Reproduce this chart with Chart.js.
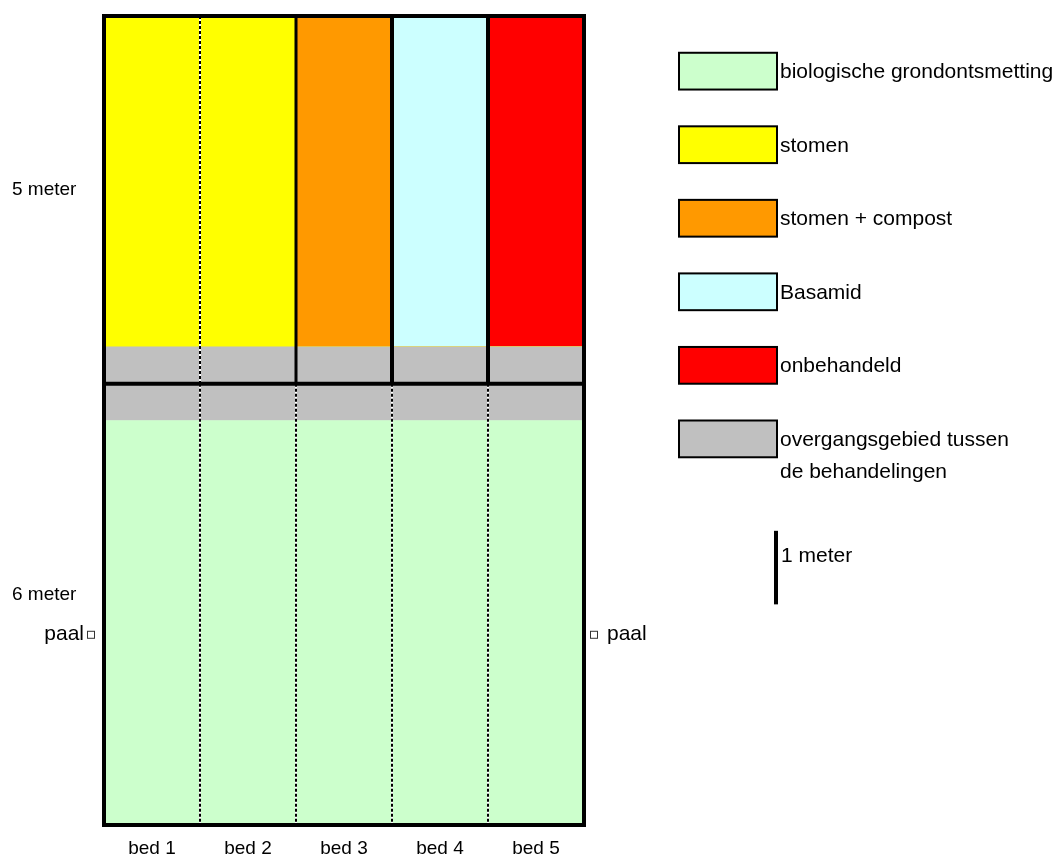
<!DOCTYPE html>
<html>
<head>
<meta charset="utf-8">
<script src="https://cdn.jsdelivr.net/npm/chart.js@4"></script>
<style>
html,body{margin:0;padding:0;background:#fff;}
#wrap{width:1055px;height:863px;}
</style>
</head>
<body>
<div id="wrap"><canvas id="c" width="1055" height="863"></canvas></div>
<script>
// ---- data ----
const beds = ['bed 1', 'bed 2', 'bed 3', 'bed 4', 'bed 5'];
const bioValues = [5.5, 5.5, 5.5, 5.5, 5.5];          // biologische grondontsmetting (m)
const transitionValues = [1, 1, 1, 1, 1];            // overgangsgebied (m)
const stomenValues = [4.5, 4.5, 0, 0, 0];
const stomenCompostValues = [0, 0, 4.5, 0, 0];
const basamidValues = [0, 0, 0, 4.5, 0];
const untreatedValues = [0, 0, 0, 0, 4.5];
const sectionLabels = ['5 meter', '6 meter'];
const sectionLengths = [5, 6];   // upper and lower section length in meter
const postLabel = 'paal';
const postValue = 2.6;           // paal position in meter from bottom
const scaleLabel = '1 meter';
const legendOrder = [0, 2, 3, 4, 5, 1];

const totalLength = sectionLengths[0] + sectionLengths[1];

const datasets = [
  {label: 'biologische grondontsmetting', data: bioValues, backgroundColor: '#CCFFCC'},
  {label: 'overgangsgebied tussen\nde behandelingen', data: transitionValues, backgroundColor: '#C0C0C0'},
  {label: 'stomen', data: stomenValues, backgroundColor: '#FFFF00'},
  {label: 'stomen + compost', data: stomenCompostValues, backgroundColor: '#FF9900'},
  {label: 'Basamid', data: basamidValues, backgroundColor: '#CCFFFF'},
  {label: 'onbehandeld', data: untreatedValues, backgroundColor: '#FF0000'}
].map(d => Object.assign(d, {borderWidth: 0, barPercentage: 1, categoryPercentage: 1}));

const FONT = '"Liberation Sans", Arial, sans-serif';

const overlay = {
  id: 'overlay',
  afterDatasetsDraw(chart) {
    const ctx = chart.ctx;
    const x = chart.scales.x, y = chart.scales.y;
    const a = chart.chartArea;
    const ySplit = y.getPixelForValue(sectionLengths[1]);
    ctx.save();
    // column boundaries
    for (let i = 1; i < beds.length; i++) {
      const bx = (x.getPixelForValue(i - 1) + x.getPixelForValue(i)) / 2;
      const drawDotted = (y1, y2) => {
        ctx.setLineDash([]);
        ctx.strokeStyle = '#ffffff'; ctx.lineWidth = 2;
        ctx.beginPath(); ctx.moveTo(bx, y1); ctx.lineTo(bx, y2); ctx.stroke();
        ctx.setLineDash([3, 2]);
        ctx.strokeStyle = '#000000'; ctx.lineWidth = 2;
        ctx.beginPath(); ctx.moveTo(bx, y1); ctx.lineTo(bx, y2); ctx.stroke();
        ctx.setLineDash([]);
      };
      drawDotted(ySplit, a.bottom);
      if (i === 1) {
        drawDotted(a.top, ySplit);
      } else {
        ctx.strokeStyle = '#000'; ctx.lineWidth = (i === 2) ? 3 : 4;
        ctx.beginPath(); ctx.moveTo(bx, a.top); ctx.lineTo(bx, ySplit); ctx.stroke();
      }
    }
    // split line
    ctx.strokeStyle = '#000'; ctx.lineWidth = 4;
    ctx.beginPath(); ctx.moveTo(a.left, ySplit); ctx.lineTo(a.right, ySplit); ctx.stroke();
    // outer border
    ctx.strokeRect(a.left, a.top, a.right - a.left, a.bottom - a.top);

    // left labels
    ctx.fillStyle = '#000';
    ctx.textBaseline = 'middle';
    ctx.font = '19px ' + FONT;
    ctx.textAlign = 'left';
    ctx.fillText(sectionLabels[0], 12, y.getPixelForValue(8.64));
    ctx.fillText(sectionLabels[1], 12, y.getPixelForValue(3.13));
    // bed labels
    ctx.textAlign = 'center';
    beds.forEach((b, i) => ctx.fillText(b, x.getPixelForValue(i), a.bottom + 24));
    // paal
    ctx.font = '21px ' + FONT;
    const py = y.getPixelForValue(postValue);
    ctx.textAlign = 'right';
    ctx.fillText(postLabel, a.left - 20, py);
    ctx.textAlign = 'left';
    ctx.fillText(postLabel, a.right + 23, py);
    ctx.lineWidth = 1; ctx.strokeStyle = '#333';
    ctx.strokeRect(a.left - 16.5, py - 2.5, 7, 7);
    ctx.strokeRect(a.right + 6.5, py - 2.5, 7, 7);

    // legend
    const bx0 = 679, bw = 98;
    legendOrder.forEach((di, k) => {
      const ds = chart.data.datasets[di];
      const top = y.getPixelForValue(totalLength - 0.5 - k);
      const bot = y.getPixelForValue(totalLength - 1 - k);
      ctx.fillStyle = ds.backgroundColor;
      ctx.fillRect(bx0, top, bw, bot - top);
      ctx.strokeStyle = '#000'; ctx.lineWidth = 2;
      ctx.strokeRect(bx0, top, bw, bot - top);
      ctx.fillStyle = '#000';
      ctx.textAlign = 'left';
      const lines = ds.label.split('\n');
      const cy = (top + bot) / 2 + 1;
      lines.forEach((ln, j) => ctx.fillText(ln, bx0 + bw + 3, cy + j * 32));
    });
    // scale bar 1 meter
    const s1 = y.getPixelForValue(4), s0 = y.getPixelForValue(3);
    ctx.strokeStyle = '#000'; ctx.lineWidth = 4;
    ctx.beginPath(); ctx.moveTo(776, s1); ctx.lineTo(776, s0); ctx.stroke();
    ctx.fillText(scaleLabel, 781, s1 + 25);
    ctx.restore();
  }
};

new Chart(document.getElementById('c'), {
  type: 'bar',
  data: {labels: beds, datasets: datasets},
  options: {
    responsive: false,
    animation: false,
    devicePixelRatio: 1,
    layout: {padding: {left: 104, right: 471, top: 16, bottom: 38}},
    plugins: {legend: {display: false}, tooltip: {enabled: false}},
    scales: {
      x: {display: false, stacked: true},
      y: {display: false, stacked: true, min: 0, max: totalLength}
    }
  },
  plugins: [overlay]
});
</script>
</body>
</html>
